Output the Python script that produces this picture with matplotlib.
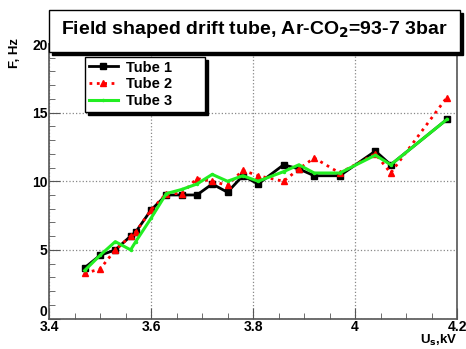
import matplotlib
matplotlib.use("Agg")
import matplotlib.pyplot as plt
from matplotlib.patches import Rectangle
from matplotlib.ticker import MultipleLocator

plt.rcParams['font.family'] = ['Liberation Sans', 'DejaVu Sans']

# data
u_kv = [3.47, 3.50, 3.53, 3.56, 3.57, 3.60, 3.63, 3.66, 3.69, 3.72,
        3.75, 3.78, 3.81, 3.86, 3.89, 3.92, 3.97, 4.04, 4.07, 4.18]
tube1 = [3.7, 4.6, 5.0, 6.0, 6.3, 7.9, 9.0, 9.0, 9.0, 9.8,
         9.2, 10.4, 9.8, 11.2, 10.9, 10.4, 10.4, 12.2, 11.2, 14.5]
tube2 = [3.3, 3.6, 5.0, 6.0, 6.3, 7.9, 9.1, 9.1, 10.2, 10.0,
         9.7, 10.8, 10.4, 10.0, 10.9, 11.7, 10.6, 12.0, 10.6, 16.1]
tube3 = [3.5, 4.6, 5.6, 5.0, 5.6, 7.3, 9.1, 9.4, 9.8, 10.5,
         10.0, 10.4, 10.0, 10.7, 11.2, 10.6, 10.6, 11.9, 11.2, 14.5]
labels = ["Tube 1", "Tube 2", "Tube 3"]
title = "Field shaped drift tube, Ar-CO$_\\mathbf{2}$=93-7 3bar"

W, H = 466, 349
fig = plt.figure(figsize=(W / 100, H / 100), dpi=100)
ax = fig.add_axes([49 / W, 1 - 318.5 / H, (457 - 49) / W, (318.5 - 44) / H])

ax.plot(u_kv, tube1, color='black', lw=2, marker='s', ms=5, label=labels[0], zorder=3)
ax.plot(u_kv, tube2, color='red', lw=2, ls=':', marker='^', ms=5, label=labels[1], zorder=4)
ax.plot(u_kv, tube3, color='#22ee22', lw=2.2, marker='.', ms=3, label=labels[2], zorder=5)

ax.set_xlim(3.4, 4.2)
ax.set_ylim(0, 20)
ax.xaxis.set_major_locator(MultipleLocator(0.2))
ax.xaxis.set_minor_locator(MultipleLocator(0.05))
ax.yaxis.set_major_locator(MultipleLocator(5))
ax.yaxis.set_minor_locator(MultipleLocator(1))
ax.xaxis.set_major_formatter(plt.FuncFormatter(lambda v, p: f"{v:g}"))
# the "0" is drawn separately, sitting just above "3.4"
ax.yaxis.set_major_formatter(plt.FuncFormatter(lambda v, p: "" if v == 0 else f"{v:g}"))
ax.tick_params(which='both', direction='in', color='#555555', labelsize=10, pad=1)
ax.tick_params(which='major', length=8)
ax.tick_params(which='minor', length=4)
for t in ax.get_xticklabels() + ax.get_yticklabels():
    t.set_fontweight('bold')
ax.text(-0.004, 0, "0", transform=ax.get_yaxis_transform(), ha='right', va='bottom',
        fontsize=10, fontweight='bold')
ax.grid(True, which='major', ls=':', color='#888888', lw=0.9)
for s in ax.spines.values():
    s.set_color('#555555')
    s.set_linewidth(1.2)

# legend box stretched to the reference width
ax.legend(loc='upper left', bbox_to_anchor=(0.088, 0.75, 0.295, 0.203), mode='expand',
          frameon=True, fancybox=False, edgecolor='black', framealpha=1,
          shadow={'color': 'black', 'alpha': 1},
          prop={'weight': 'bold', 'size': 10.5}, handlelength=2.0, handletextpad=0.6,
          borderpad=0.25, labelspacing=0.2, borderaxespad=0)

# title box with shadow
bx0, bx1, by0, by1 = 49 / W, 460 / W, 1 - 52 / H, 1 - 10 / H
fig.patches.append(Rectangle((bx0 + 3 / W, by0 - 3 / H), bx1 - bx0, by1 - by0,
                             transform=fig.transFigure, color='black', zorder=10))
fig.patches.append(Rectangle((bx0, by0), bx1 - bx0, by1 - by0, transform=fig.transFigure,
                             facecolor='white', edgecolor='black', lw=1, zorder=11))
fig.text((bx0 + bx1) / 2, (by0 + by1) / 2 + 2 / H, title, ha='center', va='center',
         fontsize=14, fontweight='bold', zorder=12)

fig.text(15 / W, 1 - 38 / H, "F, Hz", rotation=90, ha='center', va='top',
         fontsize=9.5, fontweight='bold')
fig.text(457 / W, 1 - 348.5 / H, "U$_\\mathbf{s}$,kV", ha='right', va='bottom',
         fontsize=9.5, fontweight='bold')

fig.savefig("out.png", dpi=100)
